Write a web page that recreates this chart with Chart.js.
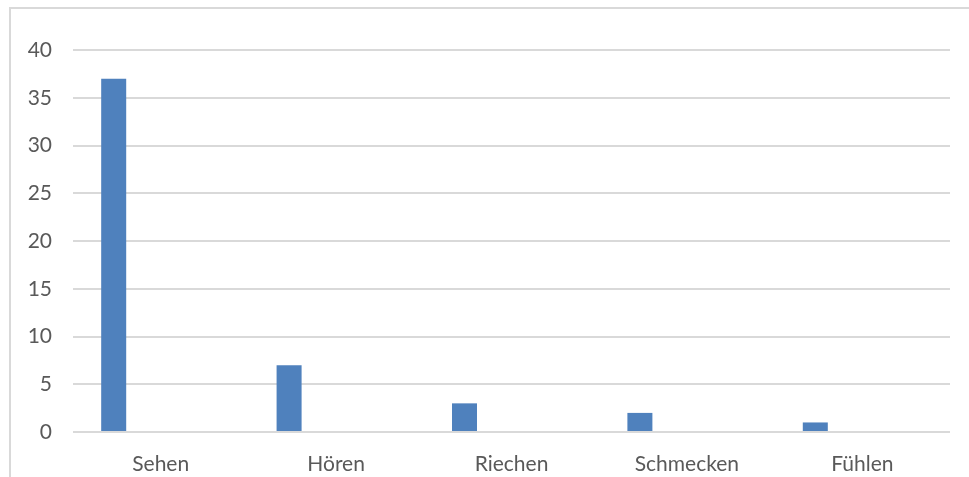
<!DOCTYPE html>
<html>
<head>
<meta charset="utf-8">
<script src="https://cdn.jsdelivr.net/npm/chart.js@4/dist/chart.umd.min.js"></script>
<style>
  html, body { margin: 0; padding: 0; background: #fff; }
  #wrap { position: relative; width: 969px; height: 477px; overflow: hidden; }
  #frame {
    position: absolute; left: 9px; top: 7px; width: 1000px; height: 500px;
    border-left: 2px solid #d9d9d9; border-top: 2px solid #d9d9d9;
  }
  #chart { position: absolute; left: 0; top: 0; }
</style>
</head>
<body>
<div id="wrap">
  <div id="frame"></div>
  <canvas id="chart" width="969" height="477"></canvas>
</div>
<script>
// Sinne und Anzahl der Nennungen
const categories = ["Sehen", "Hören", "Riechen", "Schmecken", "Fühlen"];
const values = [37, 7, 3, 2, 1];
// two more series exist in the sheet but have no entries
const emptySeries = [null, null, null, null, null];
const yTicks = [0, 5, 10, 15, 20, 25, 30, 35, 40];

const textColor = "#595959";
const gridColor = "#d9d9d9";
const font = { family: "Lato, 'Open Sans', sans-serif", size: 21 };

const ctx = document.getElementById("chart").getContext("2d");
new Chart(ctx, {
  type: "bar",
  data: {
    labels: categories,
    datasets: [
      { label: "Reihe 1", data: values, backgroundColor: "#4f81bd" },
      { label: "Reihe 2", data: emptySeries, backgroundColor: "#c0504d" },
      { label: "Reihe 3", data: emptySeries, backgroundColor: "#9bbb59" },
    ],
  },
  options: {
    responsive: false,
    animation: false,
    categoryPercentage: 0.804,
    barPercentage: 0.532,
    layout: {
      padding: { top: 50, right: 19, bottom: 0, left: 0 },
    },
    plugins: {
      legend: { display: false },
      tooltip: { enabled: false },
    },
    scales: {
      x: {
        grid: { display: false },
        border: { display: false },
        ticks: { color: textColor, font: font, padding: 12, maxRotation: 0 },
        afterFit: (scale) => { scale.height = 45; },
      },
      y: {
        min: 0,
        max: 40,
        afterBuildTicks: (scale) => {
          scale.ticks = yTicks.map((v) => ({ value: v }));
        },
        grid: { color: gridColor, lineWidth: 2, drawTicks: false },
        border: { display: false },
        ticks: { color: textColor, font: font, padding: 21 },
        afterFit: (scale) => { scale.width = 73; },
      },
    },
  },
});
</script>
</body>
</html>
